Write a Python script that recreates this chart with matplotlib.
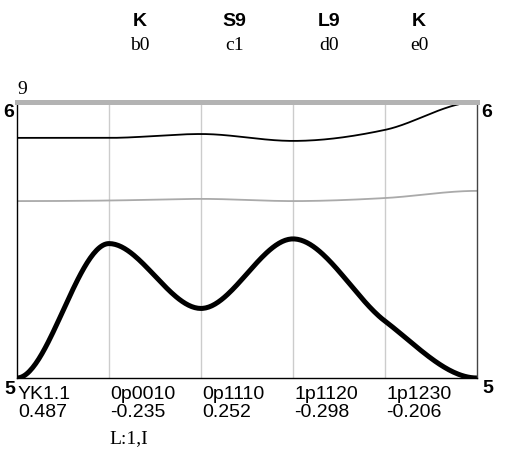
import numpy as np
import matplotlib
matplotlib.use('Agg')
import matplotlib.pyplot as plt
import matplotlib.transforms as mtransforms

plt.rcParams['font.family'] = ['Liberation Sans', 'DejaVu Sans']

# data
x_pos = [0, 1, 2, 3, 4, 5]
thick_vals = [5.0, 5.487, 5.252, 5.504, 5.206, 5.0]
thin_vals = [5.870, 5.870, 5.884, 5.859, 5.899, 6.0]
gray_vals = [5.641, 5.643, 5.649, 5.641, 5.652, 5.678]

tick_names = ['YK1.1', '0p0010', '0p1110', '1p1120', '1p1230']
tick_deltas = ['0.487', '-0.235', '0.252', '-0.298', '-0.206']
header_top = ['K', 'S9', 'L9', 'K']
header_sub = ['b0', 'c1', 'd0', 'e0']
header_x = [1.337, 2.36, 3.39, 4.37]


def smooth(xs, ys, n=60):
    # monotone cubic hermite, flat at both ends
    xs = np.asarray(xs, float)
    ys = np.asarray(ys, float)
    h = np.diff(xs)
    s = np.diff(ys) / h
    m = np.zeros_like(ys)
    for i in range(1, len(ys) - 1):
        if s[i - 1] * s[i] > 0:
            p = (s[i - 1] * h[i] + s[i] * h[i - 1]) / (h[i - 1] + h[i])
            m[i] = np.sign(s[i]) * min(abs(s[i - 1]), abs(s[i]), 0.5 * abs(p)) * 2
    px, py = [], []
    for i in range(len(h)):
        t = np.linspace(0, 1, n)
        h00 = 2 * t**3 - 3 * t**2 + 1
        h10 = t**3 - 2 * t**2 + t
        h01 = -2 * t**3 + 3 * t**2
        h11 = t**3 - t**2
        px.extend(xs[i] + t * h[i])
        py.extend(h00 * ys[i] + h10 * h[i] * m[i] + h01 * ys[i + 1] + h11 * h[i] * m[i + 1])
    return np.array(px), np.array(py)


fig = plt.figure(figsize=(5.08, 4.58), dpi=100)
ax = fig.add_axes([17 / 508, 80 / 458, 460 / 508, 276 / 458])
ax.set_xlim(0, 5)
ax.set_ylim(5, 6)

for xv in x_pos[1:-1]:
    ax.axvline(xv, color='#cccccc', linewidth=1.0, zorder=1)

sx, sy = smooth(x_pos, gray_vals)
ax.plot(sx, sy, color='#aaaaaa', linewidth=1.3, zorder=2)
sx, sy = smooth(x_pos, thin_vals)
ax.plot(sx, sy, color='black', linewidth=1.3, zorder=2)
sx, sy = smooth(x_pos, thick_vals)
ax.plot(sx, sy, color='black', linewidth=3.6, zorder=2, solid_capstyle='round')

ax.spines['top'].set_color('#b3b3b3')
ax.spines['top'].set_linewidth(3.6)
ax.spines['left'].set_color('black')
ax.spines['bottom'].set_color('black')
ax.spines['right'].set_color('#444444')
for k in ['left', 'bottom', 'right']:
    ax.spines[k].set_linewidth(1.0)
for k in ax.spines:
    ax.spines[k].set_zorder(3)

ax.set_yticks([])
ax.set_xticks(x_pos[:-1])
ax.set_xticklabels([a + '\n' + b for a, b in zip(tick_names, tick_deltas)],
                   ha='left', fontsize=14, linespacing=1.05)
ax.tick_params(axis='x', length=0, pad=6)
for lab in ax.get_xticklabels():
    lab.set_transform(lab.get_transform() + mtransforms.ScaledTranslation(1 / 100, 0, fig.dpi_scale_trans))

def off(dx, dy):
    return mtransforms.offset_copy(ax.transData, fig=fig, x=dx, y=dy, units='dots')

# y end labels
ax.text(0, 6, '6', transform=off(-3, -2), ha='right', va='top', fontsize=14, fontweight='bold')
ax.text(0, 5, '5', transform=off(-2, -3), ha='right', va='top', fontsize=14, fontweight='bold')
ax.text(5, 6, '6', transform=off(4, -2), ha='left', va='top', fontsize=14, fontweight='bold')
ax.text(5, 5, '5', transform=off(5, -2), ha='left', va='top', fontsize=14, fontweight='bold')
ax.text(0, 6, '9', transform=off(0, 4), ha='left', va='bottom', fontsize=14,
        family='Liberation Serif')
ax.text(1, 5, 'L:1,I', transform=off(0, -52), ha='left', va='top', fontsize=14,
        family='Liberation Serif')

# headers
hdr = mtransforms.blended_transform_factory(ax.transData, fig.transFigure)
for hx, a, b in zip(header_x, header_top, header_sub):
    ax.text(hx, 1 - 21 / 458, a, transform=hdr, ha='center', va='center',
            fontsize=14, fontweight='bold')
    ax.text(hx, 1 - 45 / 458, b, transform=hdr, ha='center', va='center',
            fontsize=14, family='Liberation Serif')

fig.savefig('out.png', dpi=100)
